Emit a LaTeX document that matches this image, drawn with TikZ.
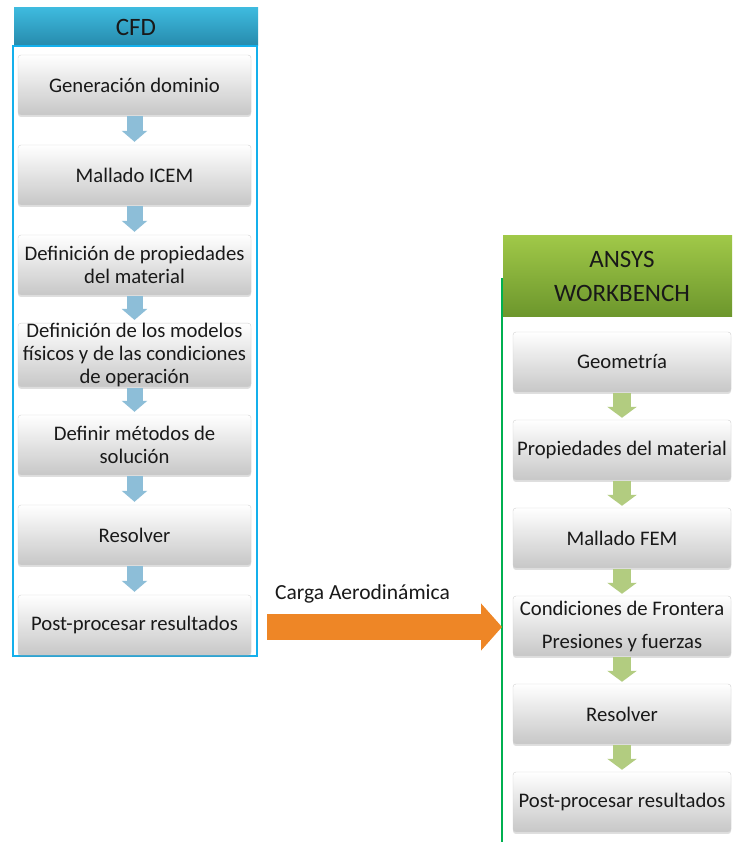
\documentclass[tikz,border=0pt]{standalone}
\usepackage{fontspec}
\setmainfont{Carlito}
\usetikzlibrary{arrows.meta,shadows}

\begin{document}
\begin{tikzpicture}[x=1pt,y=1pt,
  stepbox/.style={draw=black!18,line width=0.4pt,rounded corners=3pt,top color=white,bottom color=black!22,
    drop shadow={opacity=0.25,shadow xshift=0pt,shadow yshift=-2pt},align=center,text=textColor,
    font=\fontsize{20.7}{23}\selectfont,inner sep=0pt,minimum height=60pt},
  cfdbox/.style={stepbox,minimum width=233pt},
  wbbox/.style={stepbox,minimum width=218pt},
  headbox/.style={align=center,text=textColor,inner sep=0pt,font=\fontsize{25}{34}\selectfont},
  cfdarrow/.style={draw=cfdArrowColor,line width=16pt,-{Triangle[width=25pt,length=11pt]}},
  wbarrow/.style={draw=wbArrowColor,line width=18pt,-{Triangle[width=29pt,length=11pt]}},
  loadarrow/.style={draw=loadColor,line width=26pt,-{Triangle[width=46pt,length=21pt]}}]
\definecolor{textColor}{RGB}{25,25,25}
\definecolor{cfdTop}{RGB}{62,186,222}
\definecolor{cfdBottom}{RGB}{38,138,172}
\definecolor{cfdFrame}{RGB}{20,176,236}
\definecolor{cfdArrowColor}{RGB}{141,190,216}
\definecolor{wbTop}{RGB}{160,200,72}
\definecolor{wbBottom}{RGB}{108,150,44}
\definecolor{wbFrame}{RGB}{0,176,80}
\definecolor{wbArrowColor}{RGB}{178,204,128}
\definecolor{loadColor}{RGB}{238,134,38}
\path[use as bounding box,fill=white] (0,0) rectangle (732,842);
\begin{scope}
\path[clip] (0,0) rectangle (732,842);

\node[headbox,top color=cfdTop,bottom color=cfdBottom,minimum width=244pt,minimum height=38pt] (cfd) at (136,815) {CFD};
\draw[cfdFrame,line width=2.5pt] (13,796) rectangle (257,186);

\node[cfdbox] (gen) at (134.5,757) {Generación dominio};
\node[cfdbox] (icem) at (134.5,667) {Mallado ICEM};
\node[cfdbox] (prop) at (134.5,577) {Definición de propiedades\\del material};
\node[cfdbox] (mod) at (134.5,487) {Definición de los modelos\\físicos y de las condiciones\\de operación};
\node[cfdbox] (met) at (134.5,397) {Definir métodos de\\solución};
\node[cfdbox] (res) at (134.5,307) {Resolver};
\node[cfdbox] (post) at (134.5,217) {Post-procesar resultados};
\foreach \a/\b in {gen/icem,icem/prop,prop/mod,mod/met,met/res,res/post}
  \draw[cfdarrow] ([yshift=-1pt]\a.south) -- ([yshift=3pt]\b.north);

\node[headbox,top color=wbTop,bottom color=wbBottom,minimum width=238pt,minimum height=81pt] (wb) at (622,565.5) {ANSYS\\WORKBENCH};
\coordinate (wbline) at (502,564);
\draw[wbFrame,line width=2pt] (wbline) -- (502,0);

\node[wbbox] (geo) at (622,480) {Geometría};
\node[wbbox] (mat) at (622,392) {Propiedades del material};
\node[wbbox] (fem) at (622,304) {Mallado FEM};
\node[wbbox,font=\fontsize{20.7}{33}\selectfont] (cond) at (622,216) {Condiciones de Frontera\\Presiones y fuerzas};
\node[wbbox] (wbres) at (622,128) {Resolver};
\node[wbbox] (wbpost) at (622,40) {Post-procesar resultados};
\foreach \a/\b in {geo/mat,mat/fem,fem/cond,cond/wbres,wbres/wbpost}
  \draw[wbarrow] ([yshift=-1pt]\a.south) -- ([yshift=2pt]\b.north);

\draw[loadarrow] ([xshift=16pt,yshift=-2pt]post.east) -- ([yshift=-2pt]post.east -| wbline);
\node[text=textColor,anchor=base west,inner sep=0pt,font=\fontsize{21.5}{23}\selectfont] (load) at (275,242) {Carga Aerodinámica};
\end{scope}
\end{tikzpicture}
\end{document}
